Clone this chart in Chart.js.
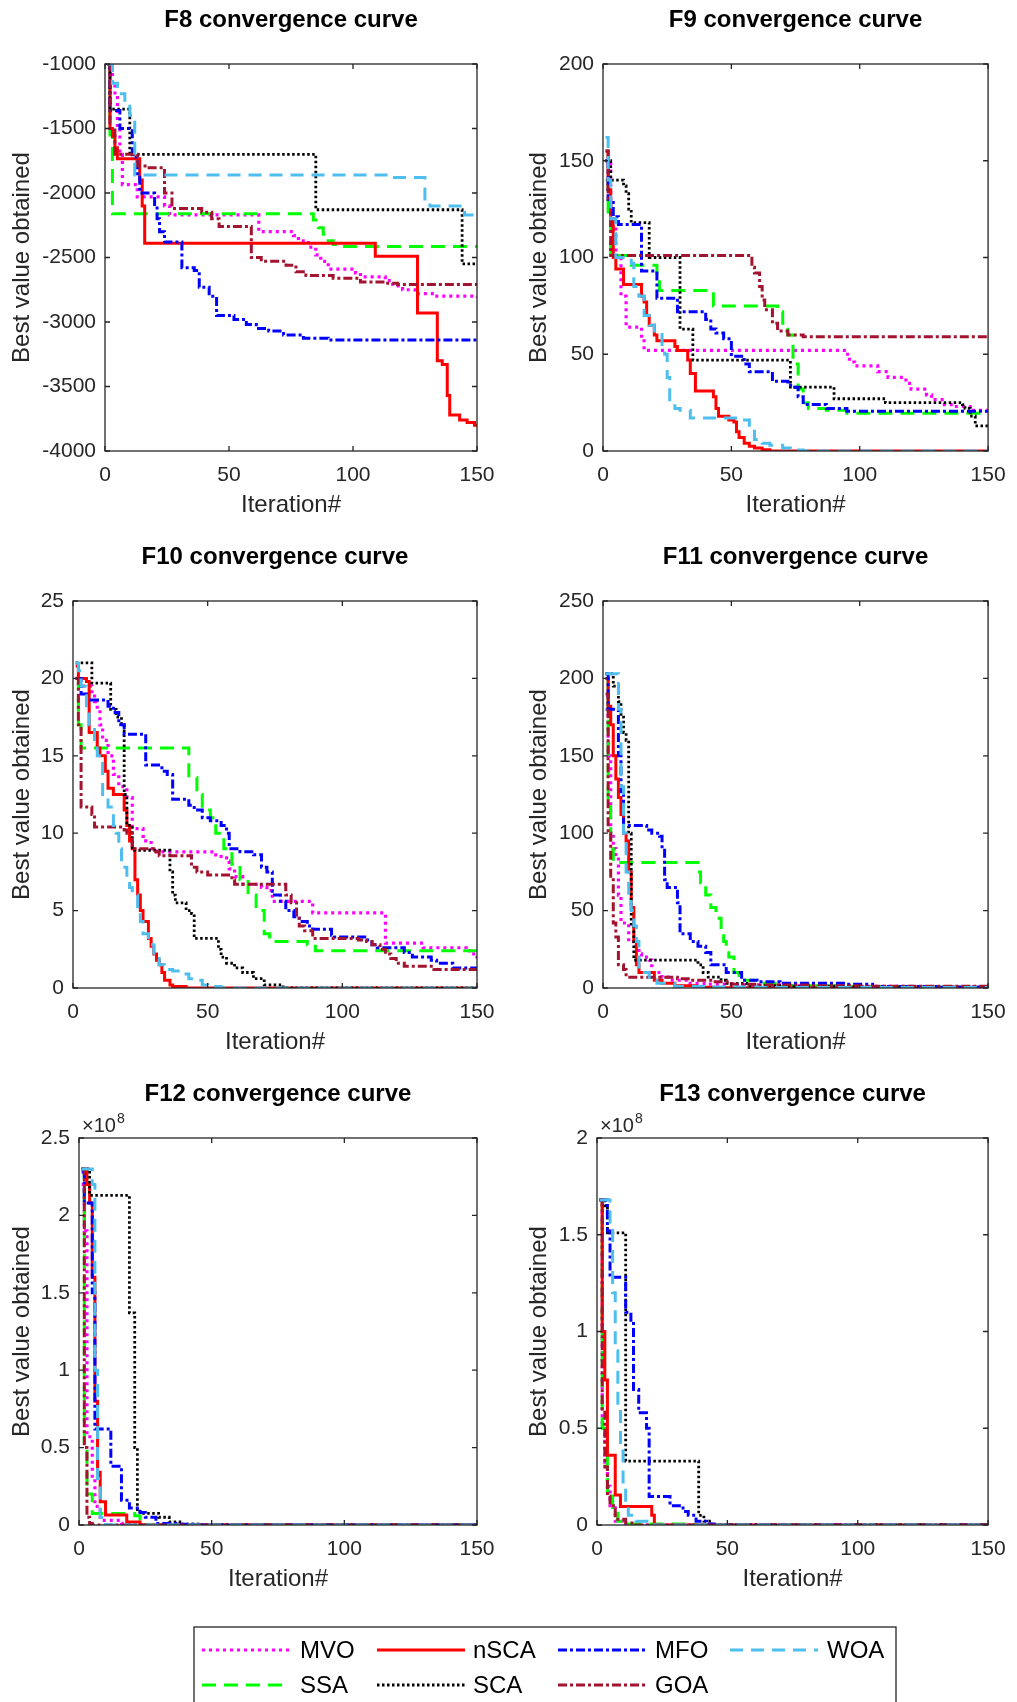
<!DOCTYPE html>
<html lang="en">

<head>
    <meta charset="UTF-8">
    <title>convergence curves</title>
    <script src="https://cdn.jsdelivr.net/npm/chart.js"></script>
    <style>
        body { margin: 0; background: #fff; width: 1017px; height: 1702px; overflow: hidden; position: relative; }
        .panel { position: absolute; height: 537px; }
        .left { left: 0; width: 508px; }
        .right { left: 508px; width: 509px; }
    </style>
</head>

<body>
    <div class="panel left" style="top:0"><canvas id="f8"></canvas></div>
    <div class="panel right" style="top:0"><canvas id="f9"></canvas></div>
    <div class="panel left" style="top:537px"><canvas id="f10"></canvas></div>
    <div class="panel right" style="top:537px"><canvas id="f11"></canvas></div>
    <div class="panel left" style="top:1074px"><canvas id="f12"></canvas></div>
    <div class="panel right" style="top:1074px"><canvas id="f13"></canvas></div>
    <div style="position:absolute;left:0;top:1600px;width:1017px;height:102px"><canvas id="legend"></canvas></div>

    <script>
        // algorithms, in the order they were plotted (legend is column-major)
        const algos = ['MVO', 'SSA', 'nSCA', 'SCA', 'MFO', 'GOA', 'WOA'];
        const xTicks = [0, 50, 100, 150];

        // y tick labels of each panel
        const f8Ticks = [-4000, -3500, -3000, -2500, -2000, -1500, -1000];
        const f9Ticks = [0, 50, 100, 150, 200];
        const f10Ticks = [0, 5, 10, 15, 20, 25];
        const f11Ticks = [0, 50, 100, 150, 200, 250];
        const f12Ticks = [0, 0.5e8, 1e8, 1.5e8, 2e8, 2.5e8];
        const f13Ticks = [0, 0.5e8, 1e8, 1.5e8, 2e8];

        // [iteration, best value] where the value changes (held until next point)
        const f8MVO = [[1, -1000], [3, -1150], [4, -1260], [5, -1500], [6, -1700], [7, -1935], [13, -2030], [24, -2100], [26, -2170], [62, -2300], [76, -2330], [78, -2370], [82, -2420], [85, -2480], [87, -2530], [90, -2590], [101, -2620], [103, -2650], [113, -2680], [116, -2720], [120, -2750], [125, -2780], [133, -2800], [150, -2810]];
        const f8SSA = [[1, -1000], [2, -1550], [3, -2160], [84, -2210], [86, -2270], [88, -2320], [90, -2370], [92, -2400], [94, -2415], [150, -2415]];
        const f8nSCA = [[1, -1000], [2, -1500], [3, -1560], [4, -1650], [5, -1735], [14, -1900], [15, -2100], [16, -2390], [109, -2490], [126, -2930], [134, -3300], [136, -3330], [138, -3570], [139, -3720], [143, -3760], [146, -3780], [149, -3800], [150, -3800]];
        const f8SCA = [[1, -1000], [2, -1350], [10, -1700], [85, -2130], [144, -2550], [150, -2550]];
        const f8MFO = [[1, -1000], [2, -1360], [6, -1500], [11, -1720], [13, -1850], [14, -2000], [20, -2100], [21, -2200], [22, -2300], [24, -2380], [31, -2580], [36, -2600], [38, -2730], [42, -2800], [45, -2950], [52, -2980], [57, -3020], [61, -3050], [66, -3070], [72, -3100], [80, -3125], [90, -3140], [150, -3140]];
        const f8GOA = [[1, -1000], [2, -1500], [4, -1700], [13, -1790], [17, -1805], [24, -2000], [27, -2120], [39, -2150], [43, -2200], [46, -2260], [59, -2500], [63, -2530], [73, -2560], [77, -2610], [81, -2640], [92, -2660], [103, -2690], [113, -2700], [118, -2710], [150, -2710]];
        const f8WOA = [[1, -1000], [3, -1150], [5, -1230], [8, -1300], [10, -1400], [12, -1860], [115, -1880], [129, -2080], [131, -2100], [145, -2170], [149, -2195], [150, -2200]];

        const f9MVO = [[1, 150], [3, 120], [5, 100], [7, 80], [9, 64], [15, 58], [16, 52], [94, 50], [96, 46], [98, 44], [107, 41], [111, 38], [118, 35], [120, 32], [126, 29], [128, 26.5], [133, 24], [137, 23], [143, 21], [150, 21]];
        const f9SSA = [[1, 140], [2, 120], [3, 101], [11, 96], [21, 90], [22, 83], [43, 75], [68, 72], [70, 66], [72, 60], [74, 45], [76, 32], [78, 25], [80, 22], [87, 21], [95, 19.5], [150, 19.5]];
        const f9nSCA = [[1, 155], [2, 135], [3, 120], [4, 100], [5, 94], [8, 86], [15, 80], [16, 77], [17, 70], [18, 65], [20, 60], [21, 57], [28, 54], [29, 52], [33, 47], [34, 40], [36, 31], [43, 28], [44, 22], [45, 18], [49, 16], [51, 15], [52, 10], [53, 7], [55, 4], [57, 2.5], [59, 1.5], [62, 0.7], [65, 0], [150, 0]];
        const f9SCA = [[1, 150], [3, 140], [8, 137], [9, 133], [10, 125], [11, 118], [18, 100], [30, 63], [35, 47], [73, 33], [90, 27], [110, 25], [140, 24], [141, 22], [143, 18], [145, 13], [150, 13]];
        const f9MFO = [[1, 150], [2, 130], [4, 121], [6, 117], [15, 93], [21, 79], [29, 72], [40, 68], [42, 63], [44, 61], [47, 58], [50, 49], [55, 45], [57, 41], [66, 36], [72, 34], [74, 33], [76, 28], [78, 24], [87, 22], [95, 20.5], [150, 20.5]];
        const f9GOA = [[1, 155], [2, 130], [3, 101], [58, 95], [59, 92], [61, 85], [62, 78], [63, 73], [66, 66], [68, 62], [72, 60], [78, 59], [150, 59]];
        const f9WOA = [[1, 162], [2, 140], [3, 120], [5, 100], [11, 97], [12, 85], [14, 80], [16, 70], [18, 65], [20, 62], [23, 55], [24, 50], [25, 38], [26, 25], [28, 22], [30, 21], [34, 17], [54, 16], [57, 12], [59, 6], [62, 4], [65, 3], [70, 1.5], [73, 0.5], [78, 0], [150, 0]];

        const f10MVO = [[1, 20], [2, 19.5], [7, 19], [8, 18.5], [9, 18], [10, 17], [11, 16], [13, 15], [15, 13.8], [17, 13], [20, 12.3], [22, 10.3], [26, 9.8], [27, 9.5], [29, 9], [31, 8.8], [53, 8.6], [55, 8.4], [57, 8.2], [58, 7.7], [60, 7.2], [63, 6.7], [70, 6.5], [72, 6.3], [74, 5.6], [89, 4.85], [116, 2.9], [130, 2.6], [146, 2.4], [148, 2.2], [150, 1.9]];
        const f10SSA = [[1, 20], [2, 17], [3, 15.5], [43, 13.6], [46, 12.5], [48, 11.5], [51, 11], [53, 10], [56, 9], [59, 8], [62, 7], [65, 6], [68, 5], [71, 3.5], [73, 3], [87, 2.8], [90, 2.4], [150, 2.3]];
        const f10nSCA = [[1, 20.8], [2, 20], [5, 19.8], [6, 16.5], [9, 15.5], [10, 15], [12, 14], [13, 12.9], [15, 12.5], [19, 11.5], [20, 10.5], [21, 9.5], [22, 9], [23, 7], [24, 6], [25, 5], [26, 4.3], [28, 3.2], [29, 2.7], [30, 2.2], [31, 1.8], [32, 1.5], [33, 1], [34, 0.5], [36, 0.2], [37, 0.1], [42, 0], [150, 0]];
        const f10SCA = [[1, 21], [7, 19.7], [14, 18], [16, 17.5], [18, 17], [19, 12.5], [20, 10.5], [22, 8.9], [36, 7.5], [37, 6], [38, 5.5], [42, 5], [44, 4.8], [45, 3.2], [54, 2.5], [55, 2], [57, 1.6], [60, 1.3], [63, 1], [67, 0.6], [71, 0.2], [78, 0], [150, 0]];
        const f10MFO = [[1, 20], [3, 19], [5, 18.6], [13, 18.2], [15, 17.8], [17, 17], [19, 16.4], [27, 14.4], [33, 14], [35, 13.8], [37, 12.2], [43, 11.8], [45, 11.5], [48, 11], [51, 10.8], [55, 10.5], [57, 10], [58, 9], [62, 8.8], [67, 8.6], [70, 7.8], [72, 7.5], [74, 6], [77, 5.6], [79, 5], [82, 4.6], [84, 4.3], [87, 4], [89, 3.8], [96, 3.4], [97, 3.3], [109, 3.1], [111, 2.8], [113, 2.6], [123, 2.3], [126, 2], [133, 1.8], [135, 1.6], [141, 1.3], [150, 1.3]];
        const f10GOA = [[1, 20], [2, 17], [3, 11.7], [7, 11.2], [8, 10.4], [19, 10.2], [20, 10], [22, 9], [30, 8.8], [32, 8.55], [44, 7.8], [46, 7.5], [50, 7.3], [59, 7], [60, 6.7], [79, 6], [81, 5.5], [83, 4.5], [84, 4], [86, 3.7], [89, 3.2], [106, 3.1], [109, 3], [111, 2.8], [114, 2.5], [116, 2.2], [118, 1.9], [120, 1.6], [123, 1.4], [134, 1.2], [150, 1.15]];
        const f10WOA = [[1, 21], [2, 20.5], [3, 19.5], [5, 18], [6, 17], [8, 15.5], [9, 15], [11, 12.4], [13, 11.7], [15, 10.5], [16, 10], [17, 9], [18, 7.8], [20, 7], [21, 6.5], [22, 6], [24, 5], [25, 4.3], [26, 3.5], [28, 2.8], [30, 1.9], [32, 1.5], [34, 1.2], [37, 1.1], [40, 0.9], [43, 0.6], [45, 0.5], [48, 0.2], [50, 0.1], [55, 0], [150, 0]];

        const f11MVO = [[1, 180], [2, 150], [3, 100], [4, 90], [5, 85], [6, 60], [7, 42], [10, 30], [12, 27], [14, 22], [15, 20], [18, 18], [19, 10], [23, 7], [27, 5], [33, 3], [40, 2.5], [50, 2], [70, 1.5], [100, 1], [120, 0.6], [150, 0.6]];
        const f11SSA = [[1, 200], [2, 120], [3, 90], [4, 81], [37, 75], [38, 68], [40, 60], [42, 52], [44, 45], [46, 38], [47, 30], [48, 24], [49, 20], [51, 10], [53, 5], [61, 3], [70, 1.5], [90, 0.8], [120, 0.5], [150, 0.5]];
        const f11nSCA = [[1, 200], [2, 182], [3, 170], [4, 150], [5, 135], [6, 123], [7, 112], [8, 100], [9, 95], [10, 75], [11, 52], [12, 30], [13, 15], [14, 10], [20, 5], [23, 3], [28, 1.5], [36, 0.5], [45, 0.1], [60, 0], [150, 0]];
        const f11SCA = [[1, 203], [4, 195], [6, 185], [7, 175], [8, 165], [9, 160], [10, 100], [11, 40], [12, 18], [37, 15], [39, 10], [41, 7], [46, 5], [48, 3], [56, 1.5], [70, 0.8], [100, 0.5], [150, 0.5]];
        const f11MFO = [[1, 203], [2, 180], [6, 150], [7, 125], [8, 105], [17, 102], [19, 100], [22, 98], [23, 90], [24, 70], [25, 65], [29, 55], [30, 35], [34, 30], [37, 27], [40, 23], [42, 15], [48, 10], [54, 5], [60, 4], [69, 3], [95, 2.5], [105, 1], [130, 0.5], [150, 0.5]];
        const f11GOA = [[1, 190], [2, 100], [3, 70], [4, 42], [5, 33], [6, 15], [8, 12], [9, 7], [29, 6], [34, 5], [43, 4], [50, 2.5], [60, 2], [80, 1.5], [100, 1.2], [150, 1]];
        const f11WOA = [[1, 203], [6, 180], [7, 130], [8, 100], [9, 75], [10, 60], [11, 50], [12, 40], [13, 30], [14, 10], [18, 5], [21, 3], [28, 1], [40, 0.6], [60, 0.4], [90, 0.3], [150, 0.3]];

        const f12MVO = [[1, 2.20e8], [2, 1.90e8], [3, 0.57e8], [5, 0.30e8], [6, 0.12e8], [8, 0.03e8], [16, 0.01e8], [20, 0], [150, 0]];
        const f12SSA = [[1, 2.30e8], [2, 0.50e8], [3, 0.20e8], [5, 0.075e8], [21, 0.06e8], [23, 0.02e8], [25, 0], [150, 0]];
        const f12nSCA = [[1, 2.30e8], [3, 2.20e8], [4, 2.08e8], [5, 1.60e8], [6, 0.80e8], [7, 0.34e8], [8, 0.15e8], [10, 0.065e8], [18, 0.02e8], [23, 0], [150, 0]];
        const f12SCA = [[1, 2.30e8], [4, 2.13e8], [19, 1.37e8], [21, 0.50e8], [22, 0.10e8], [23, 0.075e8], [30, 0.05e8], [34, 0.02e8], [38, 0.005e8], [45, 0], [150, 0]];
        const f12MFO = [[1, 2.28e8], [2, 2.08e8], [5, 1.50e8], [6, 0.62e8], [12, 0.38e8], [16, 0.16e8], [19, 0.11e8], [23, 0.08e8], [25, 0.05e8], [29, 0.01e8], [38, 0.005e8], [43, 0], [150, 0]];
        const f12GOA = [[1, 2.30e8], [2, 0.50e8], [3, 0.05e8], [4, 0.01e8], [5, 0], [150, 0]];
        const f12WOA = [[1, 2.30e8], [5, 2.20e8], [6, 1.00e8], [7, 0.30e8], [8, 0.05e8], [10, 0], [150, 0]];

        const f13MVO = [[1, 1.68e8], [2, 0.50e8], [3, 0.30e8], [4, 0.20e8], [5, 0.10e8], [7, 0.02e8], [10, 0], [150, 0]];
        const f13SSA = [[1, 1.68e8], [2, 0.50e8], [4, 0.15e8], [6, 0.08e8], [8, 0.02e8], [10, 0.005e8], [36, 0.003e8], [38, 0], [150, 0]];
        const f13nSCA = [[1, 1.68e8], [2, 1.00e8], [3, 0.75e8], [4, 0.36e8], [7, 0.155e8], [9, 0.095e8], [21, 0.05e8], [22, 0], [150, 0]];
        const f13SCA = [[1, 1.68e8], [3, 1.65e8], [4, 1.51e8], [11, 0.33e8], [39, 0.05e8], [41, 0.02e8], [44, 0], [150, 0]];
        const f13MFO = [[1, 1.68e8], [4, 1.52e8], [5, 1.28e8], [11, 1.10e8], [13, 1.05e8], [14, 0.70e8], [16, 0.58e8], [19, 0.50e8], [20, 0.147e8], [28, 0.10e8], [33, 0.07e8], [35, 0.05e8], [38, 0.02e8], [42, 0.005e8], [45, 0], [150, 0]];
        const f13GOA = [[1, 1.68e8], [2, 0.60e8], [3, 0.30e8], [4, 0.15e8], [5, 0.10e8], [7, 0.03e8], [11, 0.01e8], [15, 0], [150, 0]];
        const f13WOA = [[1, 1.68e8], [5, 1.55e8], [6, 1.20e8], [7, 0.90e8], [8, 0.60e8], [9, 0.40e8], [10, 0.20e8], [11, 0.10e8], [12, 0.05e8], [15, 0.02e8], [22, 0], [150, 0]];

        // MATLAB-like line styles
        const lineStyle = {
            MVO: { color: '#FF00FF', width: 3.2, dash: [3, 4] },
            SSA: { color: '#00FF00', width: 3, dash: [14, 8] },
            nSCA: { color: '#FF0000', width: 3, dash: [] },
            SCA: { color: '#000000', width: 2.8, dash: [2.5, 2.5] },
            MFO: { color: '#0000FF', width: 3, dash: [9, 3, 3, 3] },
            GOA: { color: '#A2142F', width: 3, dash: [9, 3, 3, 3] },
            WOA: { color: '#4DBEEE', width: 3, dash: [13, 8] }
        };

        Chart.defaults.font.family = '"Liberation Sans", Arial, sans-serif';
        Chart.defaults.color = '#262626';

        const fmt8 = v => String(Math.round(v / 1e7) / 10);

        // box, inward ticks on all four sides and the x10^n label
        const matlabBox = {
            id: 'matlabBox',
            afterDatasetsDraw(chart, args, opts) {
                const { ctx, chartArea: a, scales: { x, y } } = chart;
                ctx.save();
                ctx.strokeStyle = '#262626';
                ctx.lineWidth = 1.3;
                ctx.setLineDash([]);
                ctx.strokeRect(a.left, a.top, a.width, a.height);
                ctx.beginPath();
                x.ticks.forEach(t => {
                    const px = x.getPixelForValue(t.value);
                    ctx.moveTo(px, a.bottom); ctx.lineTo(px, a.bottom - 5);
                    ctx.moveTo(px, a.top); ctx.lineTo(px, a.top + 5);
                });
                y.ticks.forEach(t => {
                    const py = y.getPixelForValue(t.value);
                    ctx.moveTo(a.left, py); ctx.lineTo(a.left + 5, py);
                    ctx.moveTo(a.right, py); ctx.lineTo(a.right - 5, py);
                });
                ctx.stroke();
                if (opts.exponent) {
                    ctx.fillStyle = '#262626';
                    ctx.textBaseline = 'alphabetic';
                    ctx.font = '20px "Liberation Sans", Arial, sans-serif';
                    ctx.fillText('\u00d710', a.left + 3, a.top - 6);
                    const w = ctx.measureText('\u00d710').width;
                    ctx.font = '14px "Liberation Sans", Arial, sans-serif';
                    ctx.fillText(String(opts.exponent), a.left + 4 + w, a.top - 15);
                }
                ctx.restore();
            }
        };

        function makePanel(id, title, series, yTicks, opt) {
            const datasets = algos.map((name, i) => ({
                label: name,
                data: series[name].map(p => ({ x: p[0], y: p[1] })),
                borderColor: lineStyle[name].color,
                borderWidth: lineStyle[name].width,
                borderDash: lineStyle[name].dash,
                stepped: 'before',
                pointRadius: 0,
                fill: false,
                order: algos.length - i
            }));
            const tickCb = opt.exponent ? fmt8 : (v => String(v));
            return new Chart(document.getElementById(id), {
                type: 'line',
                data: { datasets },
                plugins: [matlabBox],
                options: {
                    responsive: true,
                    maintainAspectRatio: false,
                    animation: false,
                    devicePixelRatio: 1,
                    layout: { padding: { left: 0, right: opt.padRight, top: 0, bottom: 0 } },
                    plugins: {
                        legend: { display: false },
                        tooltip: { enabled: false },
                        title: {
                            display: true, text: title, color: '#000', fullSize: false,
                            font: { size: 24, weight: 'bold' },
                            padding: { top: 5.6, bottom: 29.6 }
                        },
                        matlabBox: { exponent: opt.exponent }
                    },
                    scales: {
                        x: {
                            type: 'linear', min: xTicks[0], max: xTicks[xTicks.length - 1],
                            afterBuildTicks: s => { s.ticks = xTicks.map(v => ({ value: v })); },
                            afterFit: s => { s.height = 86; },
                            grid: { display: false, drawTicks: false },
                            border: { display: false },
                            ticks: { font: { size: 21 }, padding: 11.4, maxRotation: 0, callback: v => String(v) },
                            title: { display: true, text: 'Iteration#', font: { size: 24 }, padding: { top: 0, bottom: 17.6 } }
                        },
                        y: {
                            type: 'linear', min: yTicks[0], max: yTicks[yTicks.length - 1],
                            afterBuildTicks: s => { s.ticks = yTicks.map(v => ({ value: v })); },
                            afterFit: s => { s.width = opt.yWidth; },
                            grid: { display: false, drawTicks: false },
                            border: { display: false },
                            ticks: { font: { size: 21 }, padding: 9, callback: tickCb },
                            title: { display: true, text: 'Best value obtained', font: { size: 24 }, padding: { top: opt.yTitlePad, bottom: 0 } }
                        }
                    }
                }
            });
        }

        const leftCol = { padRight: 31, yTitlePad: 7.6 };
        const rightCol = { padRight: 22, yTitlePad: 16.6 };

        makePanel('f8', 'F8 convergence curve',
            { MVO: f8MVO, SSA: f8SSA, nSCA: f8nSCA, SCA: f8SCA, MFO: f8MFO, GOA: f8GOA, WOA: f8WOA },
            f8Ticks, { ...leftCol, yWidth: 105 });
        makePanel('f9', 'F9 convergence curve',
            { MVO: f9MVO, SSA: f9SSA, nSCA: f9nSCA, SCA: f9SCA, MFO: f9MFO, GOA: f9GOA, WOA: f9WOA },
            f9Ticks, { ...rightCol, yWidth: 95 });
        makePanel('f10', 'F10 convergence curve',
            { MVO: f10MVO, SSA: f10SSA, nSCA: f10nSCA, SCA: f10SCA, MFO: f10MFO, GOA: f10GOA, WOA: f10WOA },
            f10Ticks, { ...leftCol, yWidth: 73 });
        makePanel('f11', 'F11 convergence curve',
            { MVO: f11MVO, SSA: f11SSA, nSCA: f11nSCA, SCA: f11SCA, MFO: f11MFO, GOA: f11GOA, WOA: f11WOA },
            f11Ticks, { ...rightCol, yWidth: 95 });
        makePanel('f12', 'F12 convergence curve',
            { MVO: f12MVO, SSA: f12SSA, nSCA: f12nSCA, SCA: f12SCA, MFO: f12MFO, GOA: f12GOA, WOA: f12WOA },
            f12Ticks, { ...leftCol, yWidth: 79, exponent: 8 });
        makePanel('f13', 'F13 convergence curve',
            { MVO: f13MVO, SSA: f13SSA, nSCA: f13nSCA, SCA: f13SCA, MFO: f13MFO, GOA: f13GOA, WOA: f13WOA },
            f13Ticks, { ...rightCol, yWidth: 89, exponent: 8 });

        // shared legend, 2 rows filled column by column like MATLAB does
        const legendBox = {
            id: 'legendBox',
            afterDraw(chart) {
                const ctx = chart.ctx;
                const colLine = [202, 377, 558, 730];
                const colText = [300, 473, 655, 827];
                const rowY = [50, 85];
                ctx.save();
                ctx.strokeStyle = '#262626';
                ctx.lineWidth = 1.3;
                ctx.strokeRect(194, 27, 702, 110);
                chart.data.datasets.forEach((ds, i) => {
                    const c = Math.floor(i / 2), r = i % 2;
                    ctx.beginPath();
                    ctx.strokeStyle = ds.borderColor;
                    ctx.lineWidth = ds.borderWidth;
                    ctx.setLineDash(ds.borderDash);
                    ctx.moveTo(colLine[c], rowY[r]);
                    ctx.lineTo(colLine[c] + 88, rowY[r]);
                    ctx.stroke();
                    ctx.setLineDash([]);
                    ctx.fillStyle = '#000';
                    ctx.font = '24px "Liberation Sans", Arial, sans-serif';
                    ctx.textBaseline = 'middle';
                    ctx.fillText(ds.label, colText[c], rowY[r] + 1);
                });
                ctx.restore();
            }
        };

        new Chart(document.getElementById('legend'), {
            type: 'line',
            data: {
                datasets: algos.map(name => ({
                    label: name, data: [],
                    borderColor: lineStyle[name].color,
                    borderWidth: lineStyle[name].width,
                    borderDash: lineStyle[name].dash
                }))
            },
            plugins: [legendBox],
            options: {
                responsive: true,
                maintainAspectRatio: false,
                animation: false,
                devicePixelRatio: 1,
                plugins: { legend: { display: false }, tooltip: { enabled: false } },
                scales: { x: { display: false }, y: { display: false } }
            }
        });
    </script>
</body>

</html>
